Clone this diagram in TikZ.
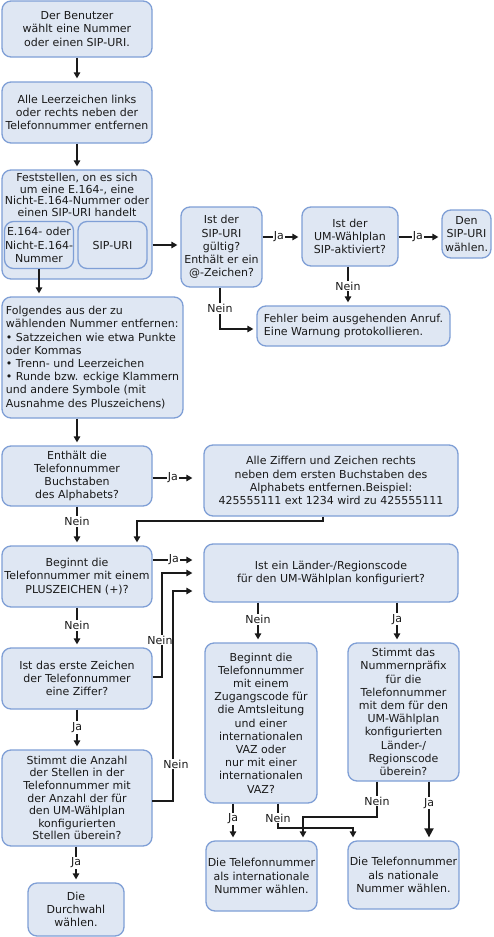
\documentclass[tikz,border=0pt]{standalone}
\usepackage{fontspec}
\setmainfont{DejaVu Sans}
\usetikzlibrary{arrows.meta}
\definecolor{boxfill}{HTML}{DFE7F3}
\definecolor{boxline}{HTML}{7F9FD6}
\definecolor{ink}{HTML}{1A1A1A}
\begin{document}
\begin{tikzpicture}[x=1pt,y=-1pt,
  every node/.style={font=\fontsize{11}{13.2}\selectfont, text=ink},
  box/.style={draw=boxline, fill=boxfill, line width=1.3pt, rounded corners=9pt, inner sep=0pt, align=center},
  conn/.style={draw=ink, line width=1.3pt, -{Triangle[length=6pt,width=6.5pt]}, shorten >=3pt},
  farconn/.style={conn, shorten >=11pt},
  lab/.style={fill=white, inner sep=1pt},
]
\useasboundingbox (0,0) rectangle (494,937);
\fill[white] (0,0) rectangle (494,937);

% left column
\node[box, minimum width=150pt, minimum height=56pt] (b1) at (77,29) {Der Benutzer\\wählt eine Nummer\\oder einen SIP-URI.};
\node[box, minimum width=150pt, minimum height=61pt] (b2) at (77,112.5) {Alle Leerzeichen links\\oder rechts neben der\\Telefonnummer entfernen};
\node[box, minimum width=150pt, minimum height=109pt] (b3) at (77,224.5) {};
\node[align=center, inner sep=0pt, font=\fontsize{11}{11.7}\selectfont] (b3t) at (77,195) {Feststellen, on es sich\\um eine E.164-, eine\\Nicht-E.164-Nummer oder\\einen SIP-URI handelt};
\node[box, minimum width=69pt, minimum height=47pt] (e164) at (39,245) {E.164- oder\\Nicht-E.164-\\Nummer};
\node[box, minimum width=69pt, minimum height=47pt] (sipin) at (112.5,245) {SIP-URI};
\node[box, minimum width=181pt, minimum height=121pt, align=left] (b4) at (92.5,357.5) {Folgendes aus der zu\\wählenden Nummer entfernen:\\• Satzzeichen wie etwa Punkte\\oder Kommas\\• Trenn- und Leerzeichen\\• Runde bzw. eckige Klammern\\und andere Symbole (mit\\Ausnahme des Pluszeichens)};
\node[box, minimum width=150pt, minimum height=60pt] (b5) at (77,476) {Enthält die\\Telefonnummer\\Buchstaben\\des Alphabets?};
\node[box, minimum width=150pt, minimum height=61pt] (b7) at (77,576.5) {Beginnt die\\Telefonnummer mit einem\\PLUSZEICHEN (+)?};
\node[box, minimum width=150pt, minimum height=61pt] (b9) at (77,678.5) {Ist das erste Zeichen\\der Telefonnummer\\eine Ziffer?};
\node[box, minimum width=150pt, minimum height=96pt, font=\fontsize{11}{12.6}\selectfont] (b10) at (77,798) {Stimmt die Anzahl\\der Stellen in der\\Telefonnummer mit\\der Anzahl der für\\den UM-Wählplan\\konfigurierten\\Stellen überein?};
\node[box, minimum width=96pt, minimum height=53pt] (b11) at (76,909.5) {Die\\Durchwahl\\wählen.};

% SIP branch
\node[box, minimum width=81pt, minimum height=80pt] (sip1) at (221.5,247) {Ist der\\SIP-URI\\gültig?\\Enthält er ein\\@-Zeichen?};
\node[box, minimum width=96pt, minimum height=59pt] (sip2) at (350,236.5) {Ist der\\UM-Wählplan\\SIP-aktiviert?};
\node[box, minimum width=49pt, minimum height=48pt] (sip3) at (466.5,234) {Den\\SIP-URI\\wählen.};
\node[box, minimum width=193pt, minimum height=40pt, align=left] (err) at (353.5,326) {Fehler beim ausgehenden Anruf.\\Eine Warnung protokollieren.};

% right column
\node[box, minimum width=254pt, minimum height=71pt] (b6) at (331,480.5) {Alle Ziffern und Zeichen rechts\\neben dem ersten Buchstaben des\\Alphabets entfernen.Beispiel:\\425555111 ext 1234 wird zu 425555111};
\node[box, minimum width=254pt, minimum height=58pt, font=\fontsize{11}{12.4}\selectfont] (b8) at (331,573) {Ist ein Länder-/Regionscode\\für den UM-Wählplan konfiguriert?};
\node[box, minimum width=112pt, minimum height=160pt] (b16) at (261,723) {Beginnt die\\Telefonnummer\\mit einem\\Zugangscode für\\die Amtsleitung\\und einer\\internationalen\\VAZ oder\\nur mit einer\\internationalen\\VAZ?};
\node[box, minimum width=111pt, minimum height=138pt] (b17) at (403.5,712) {Stimmt das\\Nummernpräfix\\für die\\Telefonnummer\\mit dem für den\\UM-Wählplan\\konfigurierten\\Länder-/\\Regionscode\\überein?};
\node[box, minimum width=111pt, minimum height=70pt] (b18) at (261.5,876) {Die Telefonnummer\\als internationale\\Nummer wählen.};
\node[box, minimum width=111pt, minimum height=68pt] (b19) at (403.5,875) {Die Telefonnummer\\als nationale\\Nummer wählen.};

% helper coordinates
\coordinate (c6a) at (323,521);
\coordinate (c6b) at (137,521);
\coordinate (c9) at (162,573);
\coordinate (c10) at (173,591);
\coordinate (c10s) at (152,801);
\coordinate (x258) at (258,0);
\coordinate (x397) at (397,0);
\coordinate (x233) at (233,0);
\coordinate (c16) at (278,828);
\coordinate (c16b) at (353,828);
\coordinate (c17) at (377,817);
\coordinate (c17b) at (303,817);
\coordinate (x429) at (429,0);
\coordinate (y237) at (0,237);
\coordinate (y478) at (0,478);
\coordinate (y560) at (0,560);
\coordinate (x220) at (220,0);
\coordinate (y329) at (0,329);
\coordinate (x348) at (348,0);

% connectors
\draw[conn] (b1) -- (b2);
\draw[conn] (b2) -- (b3);
\draw[conn] (sipin.east -| b3.east) -- (sipin.east -| sip1.west);
\draw[conn] (e164.south) -- (e164.south |- b4.north);
\draw[conn] (b4.south -| b5.north) -- (b5.north);

\draw[conn] (y237 -| sip1.east) -- node[lab, pos=0.42] (lj1) {Ja} (y237 -| sip2.west);
\draw[conn] (y237 -| sip2.east) -- node[lab, pos=0.45] (lj2) {Ja} (y237 -| sip3.west);
\draw[conn] (x348 |- sip2.south) -- node[lab] (ln1) {Nein} (x348 |- err.north);
\draw[conn] (x220 |- sip1.south) -- node[lab, pos=0.5] (ln2) {Nein} (x220 |- y329) -- (y329 -| err.west);

\draw[farconn] (y478 -| b5.east) -- node[lab, pos=0.4] (lj3) {Ja} (y478 -| b6.west);
\draw[conn] (b5) -- node[lab, pos=0.38] (ln3) {Nein} (b7);
\draw[conn] (b6.south -| c6a) -- (c6a) -- (c6b) -- (c6b |- b7.north);

\draw[farconn] (y560 -| b7.east) -- node[lab, pos=0.42] (lj4) {Ja} (y560 -| b8.west);
\draw[conn] (b7) -- node[lab, pos=0.45] (ln4) {Nein} (b9);
\draw[farconn] (b9.east |- 0,677) -| (c9) -- (c9 -| b8.west);
\node[lab] (ln5) at (160,640) {Nein};
\draw[conn] (b9) -- node[lab, pos=0.45] (lj5) {Ja} (b10);
\draw[farconn] (c10s) -| (c10) -- (c10 -| b8.west);
\node[lab] (ln6) at (176,764) {Nein};
\draw[conn] (b10.south -| b11.north) -- node[lab, pos=0.45] (lj6) {Ja} (b11.north);

\draw[conn] (x258 |- b8.south) -- node[lab, pos=0.42] (ln7) {Nein} (x258 |- b16.north);
\draw[conn] (x397 |- b8.south) -- node[lab, pos=0.42] (lj7) {Ja} (x397 |- b17.north);

\draw[conn] (x233 |- b16.south) -- node[lab, pos=0.42] (lj8) {Ja} (x233 |- b18.north);
\draw[conn] (b16.south -| c16) -- (c16) -- (c16b) -- (b19.north -| c16b);
\node[lab] (ln8) at (278,818) {Nein};
\draw[conn] (b17.south -| c17) -- (c17) -- (c17b) -- (b18.north -| c17b);
\node[lab] (ln9) at (377,801) {Nein};
\draw[draw=ink, line width=1.8pt, -{Triangle[length=9pt,width=9pt]}, shorten >=3pt] (x429 |- b17.south) -- node[lab, pos=0.37] (lj9) {Ja} (x429 |- b19.north);
\end{tikzpicture}
\end{document}
